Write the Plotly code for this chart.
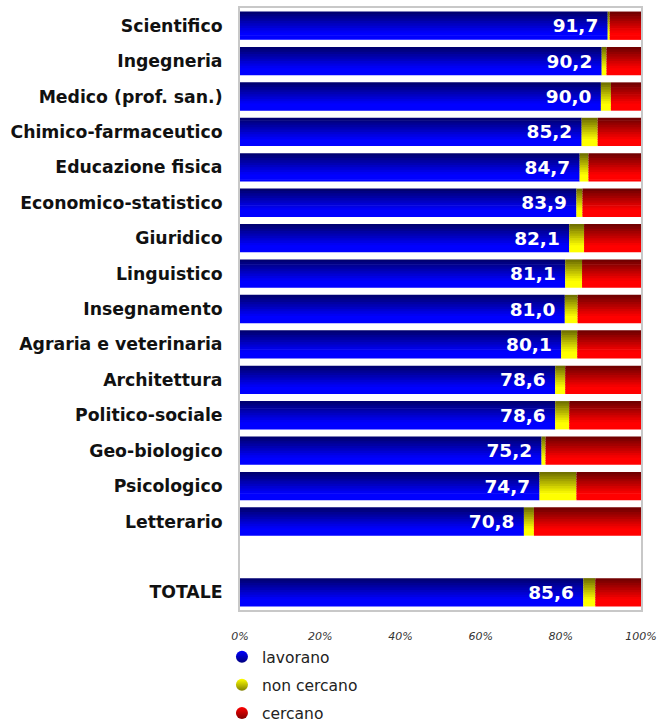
import plotly.graph_objects as go

categories = ["Scientifico", "Ingegneria", "Medico (prof. san.)", "Chimico-farmaceutico",
              "Educazione fisica", "Economico-statistico", "Giuridico", "Linguistico",
              "Insegnamento", "Agraria e veterinaria", "Architettura", "Politico-sociale",
              "Geo-biologico", "Psicologico", "Letterario", "TOTALE"]
lavorano = [91.7, 90.2, 90.0, 85.2, 84.7, 83.9, 82.1, 81.1, 81.0, 80.1, 78.6, 78.6, 75.2, 74.7, 70.8, 85.6]
non_cercano = [0.5, 1.2, 2.5, 4.0, 2.2, 1.5, 3.7, 4.2, 3.2, 4.0, 2.5, 3.5, 1.0, 9.2, 2.5, 3.0]
cercano = [7.8, 8.6, 7.5, 10.8, 13.1, 14.6, 14.2, 14.7, 15.8, 15.9, 18.9, 17.9, 23.8, 16.1, 26.7, 11.4]
x_ticks = [0, 20, 40, 60, 80, 100]
x_labels = ["0%", "20%", "40%", "60%", "80%", "100%"]

# row 15 is left empty as a gap before TOTALE
rows = list(range(15)) + [16]

bar_w = 0.8
n_strips = 12
fig = go.Figure()


def shade(rgb, k):
    t = k / (n_strips - 1)
    f = min(1.0, 0.45 + 0.7 * t)
    return "rgb(%d,%d,%d)" % tuple(int(c * f) for c in rgb)


series = [
    (lavorano, [0] * len(lavorano), (0, 0, 255), "lavorano"),
    (non_cercano, lavorano, (255, 255, 0), "non cercano"),
    (cercano, [a + b for a, b in zip(lavorano, non_cercano)], (255, 0, 0), "cercano"),
]

# fake a vertical gradient with thin stacked strips
step = bar_w / n_strips
for vals, base, rgb, name in series:
    for k in range(n_strips):
        off = -bar_w / 2 + k * step
        w = min(step * 1.3, bar_w / 2 - off)
        fig.add_trace(go.Bar(
            y=rows, x=vals, base=base, orientation="h",
            offset=off, width=w,
            marker=dict(color=shade(rgb, k), line=dict(width=0)),
            showlegend=False, hoverinfo="skip",
        ))

# value labels (nbsp keeps a little room before the bar end)
fig.add_trace(go.Bar(
    y=rows, x=lavorano, orientation="h", width=bar_w,
    marker=dict(color="rgba(0,0,0,0)", line=dict(width=0)),
    text=[("%.1f" % v).replace(".", ",") + "\u00a0" for v in lavorano],
    textposition="inside", insidetextanchor="end",
    textfont=dict(color="white", size=18.5, family="DejaVu Sans", weight="bold"),
    showlegend=False, hoverinfo="skip",
))

# legend entries
for vals, base, rgb, name in series:
    fig.add_trace(go.Scatter(
        x=[None], y=[None], mode="markers", name=name, legendgroup=name,
        marker=dict(symbol="circle", size=12, color="rgb(%d,%d,%d)" % rgb,
                    gradient=dict(type="vertical", color="rgb(%d,%d,%d)" % tuple(int(c * 0.5) for c in rgb))),
    ))

fig.update_layout(
    width=658, height=724,
    barmode="overlay",
    margin=dict(l=240, r=17, t=8, b=114, autoexpand=False),
    plot_bgcolor="white", paper_bgcolor="white",
    font=dict(family="DejaVu Sans", color="#111"),
    legend=dict(x=-0.045, y=-0.050, xanchor="left", yanchor="top",
                orientation="v", tracegroupgap=5,
                font=dict(size=15.5, color="#222")),
    xaxis=dict(range=[0, 100], tickvals=x_ticks, ticktext=x_labels,
               showgrid=False, zeroline=False, automargin=False,
               showline=True, mirror=True, linecolor="#c8c8c8", linewidth=2,
               tickfont=dict(size=11, style="italic", color="#333"),
               ticklabelstandoff=15),
    yaxis=dict(range=[16.5, -0.5], tickvals=rows, ticktext=categories,
               showgrid=False, zeroline=False, automargin=False,
               showline=True, mirror=True, linecolor="#c8c8c8", linewidth=2,
               tickfont=dict(size=17.3, weight="bold", color="#111"),
               ticklabelstandoff=12),
)

fig.write_html("out.html", config={"displayModeBar": False},
               post_script="document.body.style.margin='0';")
